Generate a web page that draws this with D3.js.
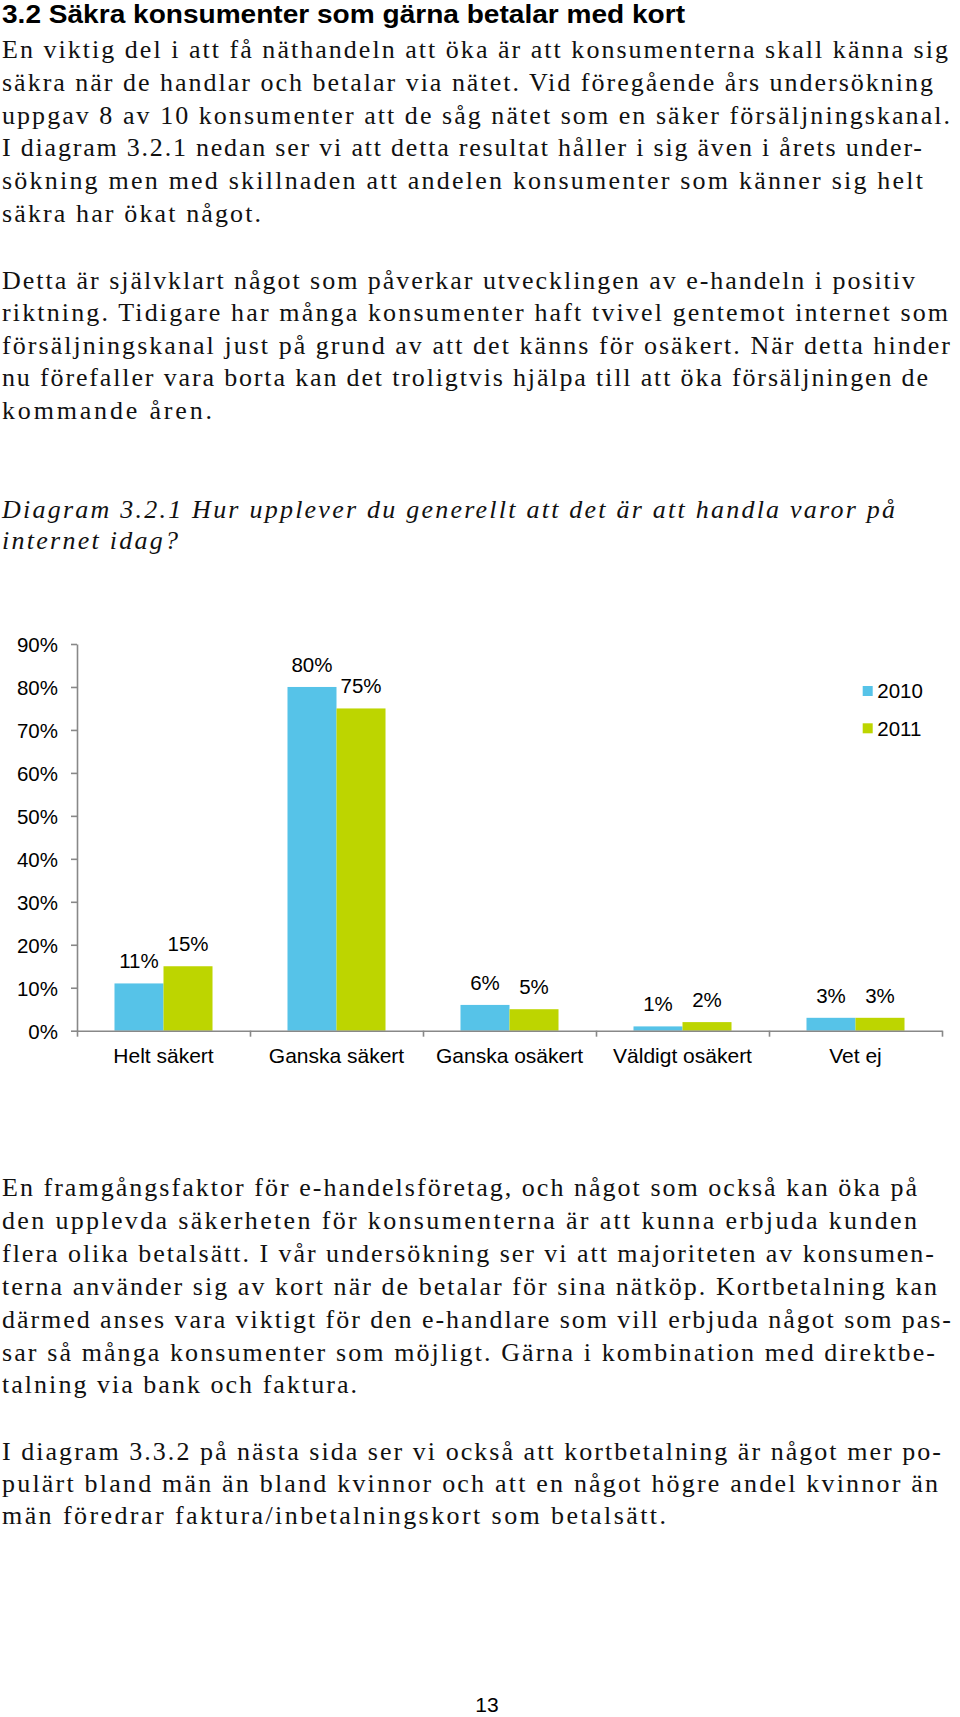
<!DOCTYPE html>
<html>
<head>
<meta charset="utf-8">
<script src="https://cdn.jsdelivr.net/npm/d3@7"></script>
<style>
  html, body { margin: 0; padding: 0; background: #fff; }
  svg { display: block; }
</style>
</head>
<body>
<script>
// ---------- data ----------
const categories = ["Helt säkert", "Ganska säkert", "Ganska osäkert", "Väldigt osäkert", "Vet ej"];
const seriesNames = ["2010", "2011"];
const values2010 = [0.11, 0.80, 0.06, 0.01, 0.03];
const values2011 = [0.15, 0.75, 0.05, 0.02, 0.03];
const yTicks = [0, 0.1, 0.2, 0.3, 0.4, 0.5, 0.6, 0.7, 0.8, 0.9];

// ---------- text ----------
const titleText = "3.2 Säkra konsumenter som gärna betalar med kort";
const para1 = [
  "En viktig del i att få näthandeln att öka är att konsumenterna skall känna sig",
  "säkra när de handlar och betalar via nätet. Vid föregående års undersökning",
  "uppgav 8 av 10 konsumenter att de såg nätet som en säker försäljningskanal.",
  "I diagram 3.2.1 nedan ser vi att detta resultat håller i sig även i årets under-",
  "sökning men med skillnaden att andelen konsumenter som känner sig helt",
  "säkra har ökat något."
];
const para2 = [
  "Detta är självklart något som påverkar utvecklingen av e-handeln i positiv",
  "riktning. Tidigare har många konsumenter haft tvivel gentemot internet som",
  "försäljningskanal just på grund av att det känns för osäkert. När detta hinder",
  "nu förefaller vara borta kan det troligtvis hjälpa till att öka försäljningen de",
  "kommande åren."
];
const caption = [
  "Diagram 3.2.1 Hur upplever du generellt att det är att handla varor på",
  "internet idag?"
];
const para3 = [
  "En framgångsfaktor för e-handelsföretag, och något som också kan öka på",
  "den upplevda säkerheten för konsumenterna är att kunna erbjuda kunden",
  "flera olika betalsätt. I vår undersökning ser vi att majoriteten av konsumen-",
  "terna använder sig av kort när de betalar för sina nätköp. Kortbetalning kan",
  "därmed anses vara viktigt för den e-handlare som vill erbjuda något som pas-",
  "sar så många konsumenter som möjligt. Gärna i kombination med direktbe-",
  "talning via bank och faktura."
];
const para4 = [
  "I diagram 3.3.2 på nästa sida ser vi också att kortbetalning är något mer po-",
  "pulärt bland män än bland kvinnor och att en något högre andel kvinnor än",
  "män föredrar faktura/inbetalningskort som betalsätt."
];
const pageNumber = "13";

// ---------- layout (positions kept separate from data) ----------
const W = 960, H = 1717;
const leftX = 2;
const blocks = [
  { lines: para1, y0: 58.3, dy: 32.65, ends: [948, 933, 950, 922, 923, 261], italic: false },
  { lines: para2, y0: 289, dy: 32.4, ends: [915, 948, 950, 928, 212], italic: false },
  { lines: caption, y0: 517.5, dy: 31.2, ends: [895, 178], italic: true },
  { lines: para3, y0: 1196, dy: 32.9, ends: [917, 917, 934, 937, 951, 935, 357], italic: false },
  { lines: para4, y0: 1460, dy: 32.1, ends: [941, 938, 666], italic: false }
];

const svg = d3.select("body").append("svg")
  .attr("width", W).attr("height", H)
  .attr("viewBox", `0 0 ${W} ${H}`);

// Title
svg.append("text")
  .attr("x", leftX).attr("y", 23)
  .attr("font-family", "'Liberation Sans', Arial, sans-serif")
  .attr("font-weight", "bold")
  .attr("font-size", 25.5)
  .attr("fill", "#000")
  .attr("textLength", 683)
  .attr("lengthAdjust", "spacingAndGlyphs")
  .text(titleText);

// Body paragraphs
blocks.forEach(b => {
  svg.append("g").selectAll("text").data(b.lines).join("text")
    .attr("x", leftX)
    .attr("y", (d, i) => b.y0 + i * b.dy)
    .attr("font-family", "'Liberation Serif', 'Times New Roman', serif")
    .attr("font-style", b.italic ? "italic" : "normal")
    .attr("font-size", 26)
    .attr("fill", "#111")
    .attr("textLength", (d, i) => b.ends[i] - leftX)
    .attr("lengthAdjust", "spacing")
    .text(d => d);
});

// Page number
svg.append("text")
  .attr("x", 487).attr("y", 1712)
  .attr("text-anchor", "middle")
  .attr("font-family", "'Liberation Sans Narrow', 'Liberation Sans', sans-serif")
  .attr("font-size", 21)
  .attr("fill", "#000")
  .text(pageNumber);

// ---------- chart ----------
const colors = { "2010": "#56C3E8", "2011": "#BDD500" };
const axisColor = "#888888";
const chartFont = "'Liberation Sans', Arial, Helvetica, sans-serif";

const x0 = d3.scaleBand().domain(categories).range([77, 942]).paddingInner(0).paddingOuter(0);
const x1 = d3.scaleBand().domain(seriesNames).range([0, x0.bandwidth()]).paddingInner(0).paddingOuter(0.765);
const y = d3.scaleLinear().domain([0, 0.9]).range([1030.7, 644]);

const table = categories.map((c, i) => ({ cat: c, vals: [
  { s: "2010", v: values2010[i] },
  { s: "2011", v: values2011[i] }
]}));

const chart = svg.append("g");

// bars
const groups = chart.selectAll("g.cat").data(table).join("g")
  .attr("class", "cat")
  .attr("transform", d => `translate(${x0(d.cat)},0)`);

groups.selectAll("rect").data(d => d.vals).join("rect")
  .attr("x", d => x1(d.s))
  .attr("y", d => y(d.v))
  .attr("width", x1.bandwidth())
  .attr("height", d => y(0) - y(d.v))
  .attr("fill", d => colors[d.s]);

// data labels
const pct = d3.format(".0%");
groups.selectAll("text.lbl").data(d => d.vals).join("text")
  .attr("class", "lbl")
  .attr("x", d => x1(d.s) + x1.bandwidth() / 2)
  .attr("y", d => y(d.v) - 15)
  .attr("text-anchor", "middle")
  .attr("font-family", chartFont)
  .attr("font-size", 20.5)
  .attr("fill", "#000")
  .text(d => pct(d.v));

// y axis
const yAxis = d3.axisLeft(y).tickValues(yTicks).tickFormat(pct).tickSize(6).tickSizeOuter(0).tickPadding(13);
const gy = chart.append("g").attr("transform", "translate(77,0)").call(yAxis);
gy.select(".domain").attr("stroke", axisColor).attr("stroke-width", 1.6);
gy.selectAll(".tick line").attr("stroke", axisColor).attr("stroke-width", 1.6);
gy.selectAll(".tick text")
  .attr("font-family", chartFont).attr("font-size", 20.5).attr("fill", "#000")
  .attr("dy", "0.37em");

// x axis: boundary ticks
const xb = d3.scaleLinear().domain([0, categories.length]).range(x0.range());
const xAxisTicks = d3.axisBottom(xb).ticks(categories.length).tickFormat("").tickSize(6).tickSizeOuter(0);
const gx = chart.append("g").attr("transform", `translate(0,${y(0)})`).call(xAxisTicks);
gx.select(".domain").attr("stroke", axisColor).attr("stroke-width", 1.6);
gx.selectAll(".tick line").attr("stroke", axisColor).attr("stroke-width", 1.6);

// x axis: category labels
const xAxisLabels = d3.axisBottom(x0).tickSize(0).tickPadding(17);
const gxl = chart.append("g").attr("transform", `translate(0,${y(0)})`).call(xAxisLabels);
gxl.select(".domain").remove();
gxl.selectAll(".tick text")
  .attr("font-family", chartFont).attr("font-size", 21).attr("fill", "#000")
  .attr("dy", "0.71em");

// legend
const legend = chart.append("g").selectAll("g").data(seriesNames).join("g")
  .attr("transform", (d, i) => `translate(862.7,${686 + i * 37.3})`);
legend.append("rect").attr("width", 10).attr("height", 10).attr("fill", d => colors[d]);
legend.append("text")
  .attr("x", 14.6).attr("y", 12.3)
  .attr("font-family", chartFont).attr("font-size", 20.5).attr("fill", "#000")
  .text(d => d);
</script>
</body>
</html>
